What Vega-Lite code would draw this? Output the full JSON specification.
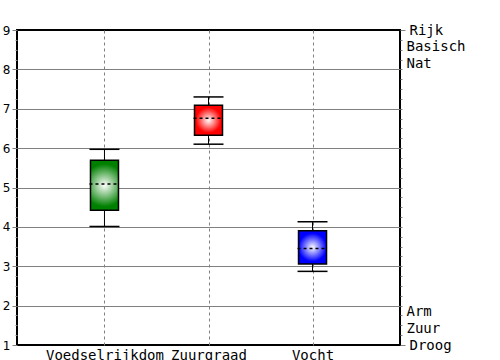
{
  "$schema": "https://vega.github.io/schema/vega-lite/v6.json",
  "width": 383,
  "height": 315,
  "autosize": {"type": "none"},
  "padding": {"left": 17, "top": 30, "right": 100, "bottom": 15},
  "background": "white",
  "config": {
    "view": {"stroke": "black", "strokeWidth": 2},
    "font": "DejaVu Sans Mono"
  },
  "data": {
    "values": [
      {"cat": "Voedselrijkdom", "min": 4.01, "q1": 4.42, "median": 5.09, "q3": 5.69, "max": 5.97},
      {"cat": "Zuurgraad", "min": 6.1, "q1": 6.33, "median": 6.76, "q3": 7.09, "max": 7.3},
      {"cat": "Vocht", "min": 2.87, "q1": 3.06, "median": 3.45, "q3": 3.9, "max": 4.13}
    ]
  },
  "resolve": {"axis": {"y": "independent"}},
  "layer": [
    {
      "mark": {"type": "rule", "color": "black", "strokeWidth": 1},
      "encoding": {
        "x": {
          "field": "cat", "type": "nominal", "sort": null,
          "scale": {"type": "point", "padding": 0.841},
          "axis": {
            "title": null, "labelAngle": 0, "domain": false, "ticks": false,
            "labelPadding": 3, "grid": true, "gridDash": [3, 3], "gridColor": "#808080", "gridWidth": 1,
            "labelFont": "DejaVu Sans Mono", "labelFontSize": 14, "labelColor": "black", "labelOverlap": false
          }
        },
        "y": {
          "field": "min", "type": "quantitative",
          "scale": {"domain": [1, 9], "nice": false, "zero": false},
          "axis": {
            "orient": "left", "title": null, "domain": false,
            "values": [1, 1.25, 1.5, 1.75, 2, 2.25, 2.5, 2.75, 3, 3.25, 3.5, 3.75, 4, 4.25, 4.5, 4.75, 5, 5.25, 5.5, 5.75, 6, 6.25, 6.5, 6.75, 7, 7.25, 7.5, 7.75, 8, 8.25, 8.5, 8.75, 9],
            "labelExpr": "datum.value % 1 === 0 ? '' + datum.value : ''",
            "tickSize": {"condition": {"test": "datum.value % 1 === 0", "value": 5}, "value": 2},
            "tickColor": "#808080",
            "grid": true, "gridColor": "#808080", "gridWidth": 1,
            "gridOpacity": {"condition": {"test": "datum.value % 1 === 0 && datum.value > 1 && datum.value < 9", "value": 1}, "value": 0},
            "labelFont": "DejaVu Sans", "labelFontSize": 12, "labelColor": "black",
            "labelPadding": 2, "labelOverlap": false, "labelFlush": false, "labelBound": false
          }
        },
        "y2": {"field": "max"}
      }
    },
    {
      "transform": [{"fold": ["min", "max"], "as": ["k", "v"]}],
      "mark": {"type": "rule", "color": "black", "strokeWidth": 1.5, "xOffset": -15, "x2Offset": 15},
      "encoding": {
        "x": {"field": "cat", "type": "nominal", "sort": null},
        "x2": {"field": "cat"},
        "y": {"field": "v", "type": "quantitative", "scale": {"domain": [1, 9], "nice": false, "zero": false}, "axis": null}
      }
    },
    {
      "transform": [{"filter": "datum.cat === 'Voedselrijkdom'"}],
      "mark": {
        "type": "bar", "width": 28, "stroke": "black", "strokeWidth": 1.5,
        "fill": {"gradient": "radial", "x1": 0.5, "y1": 0.5, "r1": 0, "x2": 0.5, "y2": 0.5, "r2": 0.5,
          "stops": [{"offset": 0, "color": "#ffffff"}, {"offset": 0.85, "color": "#008000"}, {"offset": 1, "color": "#008000"}]}
      },
      "encoding": {
        "x": {"field": "cat", "type": "nominal", "sort": null},
        "y": {"field": "q1", "type": "quantitative", "scale": {"domain": [1, 9], "nice": false, "zero": false}, "axis": null},
        "y2": {"field": "q3"}
      }
    },
    {
      "transform": [{"filter": "datum.cat === 'Zuurgraad'"}],
      "mark": {
        "type": "bar", "width": 28, "stroke": "black", "strokeWidth": 1.5,
        "fill": {"gradient": "radial", "x1": 0.5, "y1": 0.5, "r1": 0, "x2": 0.5, "y2": 0.5, "r2": 0.5,
          "stops": [{"offset": 0, "color": "#ffffff"}, {"offset": 0.85, "color": "#ff0000"}, {"offset": 1, "color": "#ff0000"}]}
      },
      "encoding": {
        "x": {"field": "cat", "type": "nominal", "sort": null},
        "y": {"field": "q1", "type": "quantitative", "scale": {"domain": [1, 9], "nice": false, "zero": false}, "axis": null},
        "y2": {"field": "q3"}
      }
    },
    {
      "transform": [{"filter": "datum.cat === 'Vocht'"}],
      "mark": {
        "type": "bar", "width": 28, "stroke": "black", "strokeWidth": 1.5,
        "fill": {"gradient": "radial", "x1": 0.5, "y1": 0.5, "r1": 0, "x2": 0.5, "y2": 0.5, "r2": 0.5,
          "stops": [{"offset": 0, "color": "#ffffff"}, {"offset": 0.85, "color": "#0000ff"}, {"offset": 1, "color": "#0000ff"}]}
      },
      "encoding": {
        "x": {"field": "cat", "type": "nominal", "sort": null},
        "y": {
          "field": "q1", "type": "quantitative", "scale": {"domain": [1, 9], "nice": false, "zero": false},
          "axis": {
            "orient": "right", "title": null, "domain": false, "grid": false,
            "values": [1, 1.25, 1.5, 1.75, 2, 2.25, 2.5, 2.75, 3, 3.25, 3.5, 3.75, 4, 4.25, 4.5, 4.75, 5, 5.25, 5.5, 5.75, 6, 6.25, 6.5, 6.75, 7, 7.25, 7.5, 7.75, 8, 8.25, 8.5, 8.75, 9, 8.57, 8.14, 1.86, 1.43],
            "labelExpr": "datum.value === 9 ? 'Rijk' : datum.value === 8.57 ? 'Basisch' : datum.value === 8.14 ? 'Nat' : datum.value === 1.86 ? 'Arm' : datum.value === 1.43 ? 'Zuur' : datum.value === 1 ? 'Droog' : ''",
            "tickSize": {"condition": {"test": "datum.value === 9 || datum.value === 1", "value": 5}, "value": 2},
            "tickOpacity": {"condition": {"test": "(datum.value * 4) % 1 === 0", "value": 1}, "value": 0},
            "tickColor": "#808080",
            "labelFont": "DejaVu Sans Mono", "labelFontSize": 14, "labelColor": "black",
            "labelPadding": 4, "labelOverlap": false, "labelFlush": false, "labelBound": false
          }
        },
        "y2": {"field": "q3"}
      }
    },
    {
      "mark": {"type": "rule", "color": "black", "strokeWidth": 1.5, "strokeDash": [3, 3], "xOffset": -15, "x2Offset": 15},
      "encoding": {
        "x": {"field": "cat", "type": "nominal", "sort": null},
        "x2": {"field": "cat"},
        "y": {"field": "median", "type": "quantitative", "scale": {"domain": [1, 9], "nice": false, "zero": false}, "axis": null}
      }
    }
  ]
}
